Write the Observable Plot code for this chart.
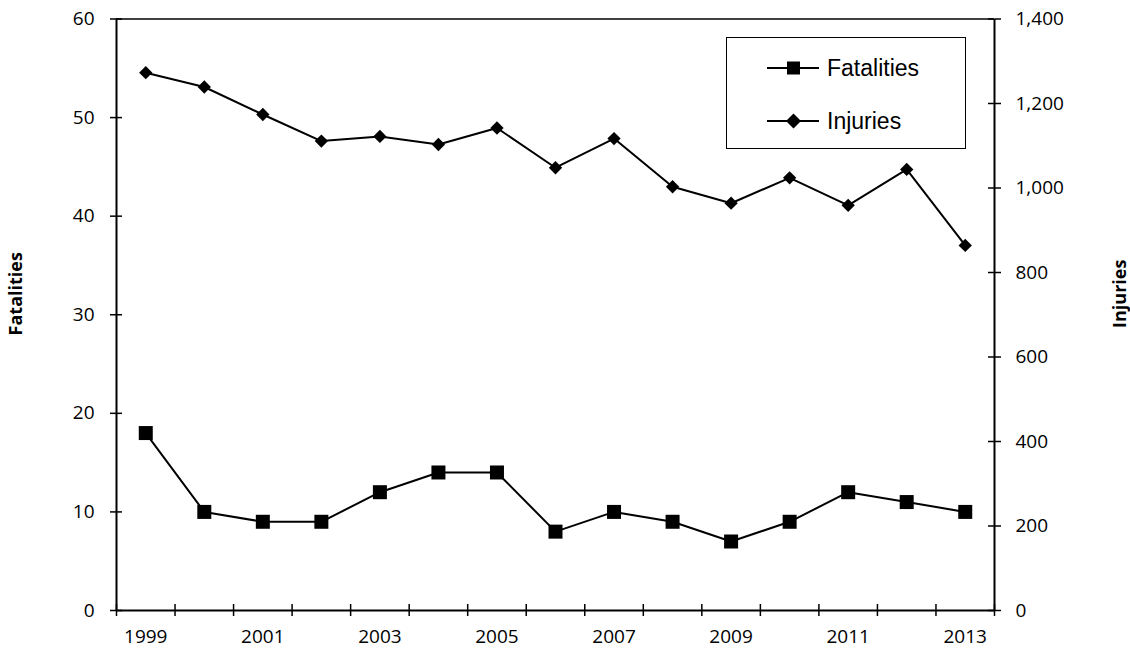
<!DOCTYPE html>
<html>
<head>
<meta charset="utf-8">
<script src="https://cdn.jsdelivr.net/npm/d3@7"></script>
<script src="https://cdn.jsdelivr.net/npm/@observablehq/plot@0.6"></script>
<style>
  html, body { margin: 0; padding: 0; background: #fff; }
  #wrap { position: relative; width: 1130px; height: 649px; }
  #legend {
    position: absolute; left: 726px; top: 37px; width: 240px; height: 112px;
    box-sizing: border-box; border: 1.5px solid #000; background: #fff;
    font-family: "Liberation Sans", Arial, sans-serif; font-size: 23px; color: #000;
  }
  .row { position: absolute; left: 0; height: 30px; display: flex; align-items: center; }
  .row svg { margin-left: 40px; }
  .row span { margin-left: 8px; }
</style>
</head>
<body>
<div id="wrap"></div>
<script>
const years = [1999, 2000, 2001, 2002, 2003, 2004, 2005, 2006, 2007, 2008, 2009, 2010, 2011, 2012, 2013];
const fatalities = [18, 10, 9, 9, 12, 14, 14, 8, 10, 9, 7, 9, 12, 11, 10];
const injuries = [1273, 1239, 1174, 1111, 1122, 1103, 1142, 1048, 1117, 1003, 964, 1024, 959, 1044, 864];
const leftTicks = [0, 10, 20, 30, 40, 50, 60];
const rightTicks = [0, 200, 400, 600, 800, 1000, 1200, 1400];
const xLabels = [1999, 2001, 2003, 2005, 2007, 2009, 2011, 2013];

const leftMax = 60, rightMax = 1400;
const toLeft = v => v * leftMax / rightMax;
const fmt = d3.format(",");

const fatData = years.map((y, i) => ({year: y, value: fatalities[i]}));
const injData = years.map((y, i) => ({year: y, value: toLeft(injuries[i])}));
const boundaries = years.map(y => y - 0.5).concat([years[years.length - 1] + 0.5]);
const xDomain = [boundaries[0], boundaries[boundaries.length - 1]];

const W = 1130, H = 649, mL = 116, mR = 136, mT = 18.5, mB = 39;
const plotW = W - mL - mR, plotH = H - mT - mB, tick = 6;

const chart = Plot.plot({
  width: W,
  height: H,
  marginLeft: mL,
  marginRight: mR,
  marginTop: mT,
  marginBottom: mB,
  style: {fontFamily: "'Open Sans', sans-serif", fontSize: "19px", color: "#000", background: "#fff", overflow: "visible"},
  x: {domain: xDomain},
  y: {domain: [0, leftMax]},
  marks: [
    Plot.ruleY([leftMax], {stroke: "#000", strokeWidth: 1.5}),
    // inner halves of the crossing tick marks
    Plot.tickY(leftTicks, {y: d => d, insetRight: plotW - tick, stroke: "#000", strokeWidth: 1.5}),
    Plot.tickY(rightTicks.map(toLeft), {y: d => d, insetLeft: plotW - tick, stroke: "#000", strokeWidth: 1.5}),
    Plot.tickX(boundaries, {x: d => d, insetTop: plotH - tick, stroke: "#000", strokeWidth: 1.5}),
    Plot.ruleY([0], {stroke: "#000", strokeWidth: 2}),
    Plot.ruleX(xDomain, {stroke: "#000", strokeWidth: 2}),
    Plot.axisY({anchor: "left", ticks: leftTicks, tickSize: tick, tickPadding: 16, strokeWidth: 1.5, label: null, fontSize: 19}),
    Plot.axisY({anchor: "right", ticks: rightTicks.map(toLeft), tickFormat: v => fmt(Math.round(v * rightMax / leftMax)), tickSize: tick, tickPadding: 15, strokeWidth: 1.5, label: null, fontSize: 19}),
    Plot.axisX({ticks: boundaries, tickSize: tick, tickFormat: () => "", strokeWidth: 1.5, label: null}),
    Plot.axisX({ticks: xLabels, tickSize: 0, tickPadding: 19, tickFormat: d => String(d), label: null, fontSize: 19}),
    Plot.text(["Fatalities"], {frameAnchor: "left", textAnchor: "middle", dx: -100, dy: -21, rotate: -90, fontWeight: "bold", fontSize: 18}),
    Plot.text(["Injuries"], {frameAnchor: "right", textAnchor: "middle", dx: 126, dy: -21, rotate: -90, fontWeight: "bold", fontSize: 18}),
    Plot.line(injData, {x: "year", y: "value", stroke: "#000", strokeWidth: 2}),
    Plot.dot(injData, {x: "year", y: "value", symbol: "diamond2", r: 6, fill: "#000", stroke: "none"}),
    Plot.line(fatData, {x: "year", y: "value", stroke: "#000", strokeWidth: 2}),
    Plot.dot(fatData, {x: "year", y: "value", symbol: "square", r: 7.9, fill: "#000", stroke: "none"})
  ]
});

const wrap = document.getElementById("wrap");
wrap.appendChild(chart);

const legend = document.createElement("div");
legend.id = "legend";
legend.innerHTML = `
  <div class="row" style="top:15px">
    <svg width="52" height="16"><line x1="0" y1="8" x2="52" y2="8" stroke="#000" stroke-width="2"/><rect x="20" y="1.5" width="13" height="13" fill="#000"/></svg>
    <span>${"Fatalities"}</span>
  </div>
  <div class="row" style="top:68px">
    <svg width="52" height="16"><line x1="0" y1="8" x2="52" y2="8" stroke="#000" stroke-width="2"/><path d="M26.5 0.5 L34 8 L26.5 15.5 L19 8 Z" fill="#000"/></svg>
    <span>${"Injuries"}</span>
  </div>`;
wrap.appendChild(legend);
</script>
</body>
</html>
